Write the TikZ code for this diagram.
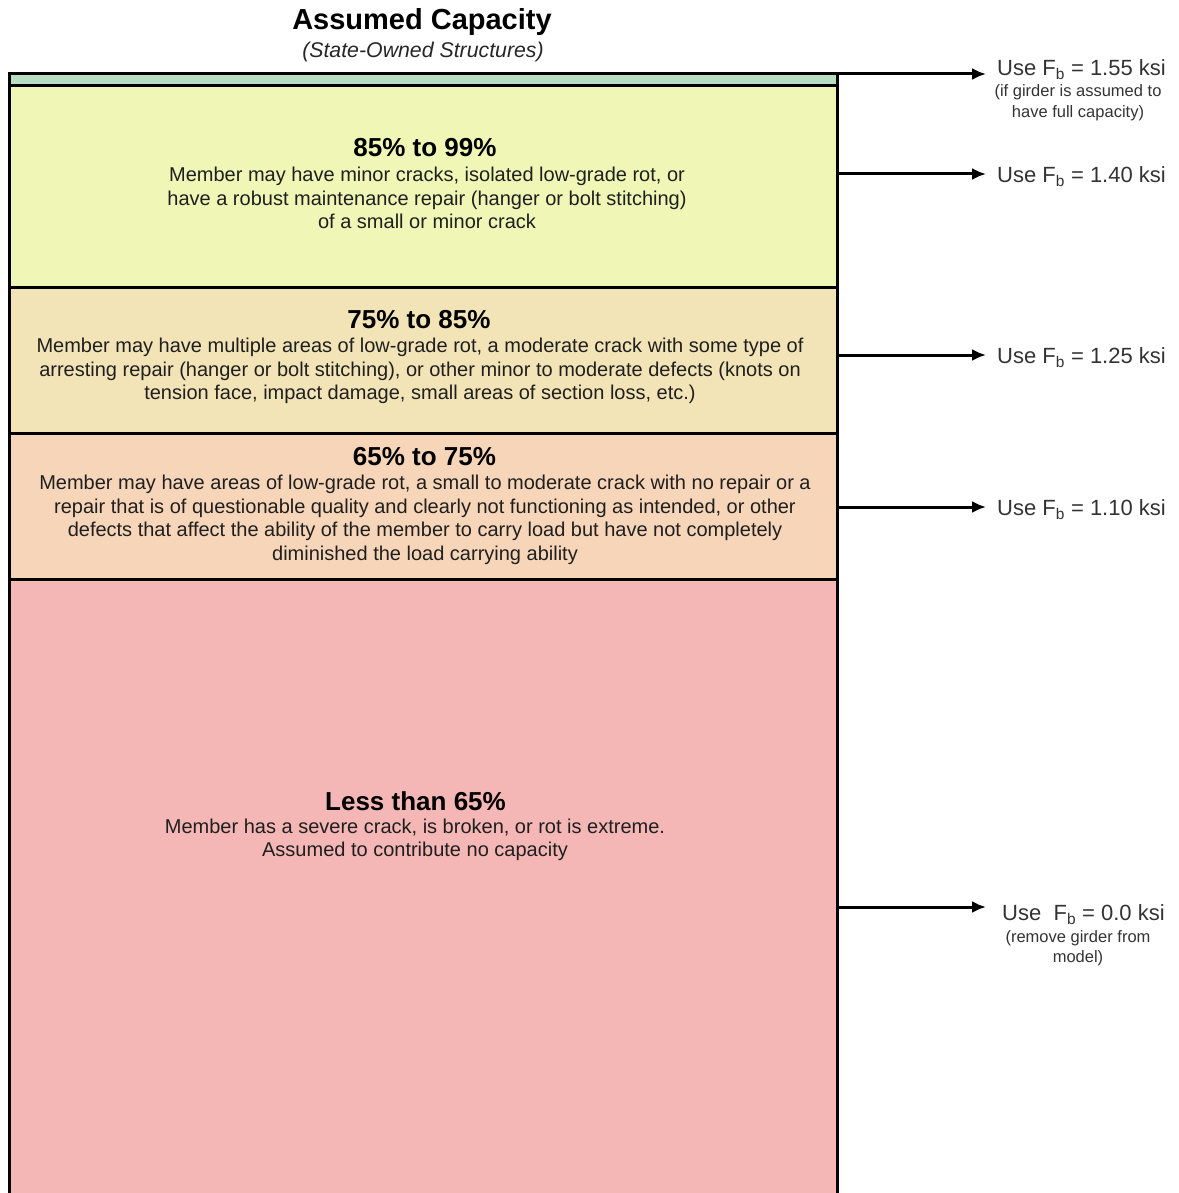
\documentclass[tikz,border=0pt]{standalone}
\usepackage{fontspec}
\setmainfont{Liberation Sans}
\usepackage{xcolor}
\usetikzlibrary{positioning,arrows.meta}
\definecolor{capgreen}{RGB}{184,222,192}
\definecolor{capyellow}{RGB}{240,246,182}
\definecolor{captan}{RGB}{242,228,182}
\definecolor{caporange}{RGB}{247,213,184}
\definecolor{capred}{RGB}{245,182,182}

\begin{document}
\begin{tikzpicture}[x=1pt, y=-1pt,
    band/.style={draw, line width=3pt, minimum width=828pt, inner sep=0pt, outer sep=0pt},
    head/.style={font=\fontsize{26}{30}\selectfont\bfseries, inner sep=0pt},
    body/.style={font=\fontsize{20}{23.6}\selectfont, align=center, inner sep=0pt, text=black!88},
    uselbl/.style={font=\fontsize{22}{26}\selectfont, anchor=west, inner sep=0pt, text=black!80},
    note/.style={font=\fontsize{16.5}{20.5}\selectfont, align=center, inner sep=0pt, text=black!80},
    arr/.style={-{Latex[length=14pt,width=12pt]}, line width=3pt}]
    \useasboundingbox (0,0) rectangle (1178,1193);
    \clip (0,0) rectangle (1178,1193);

    % Title
    \node[font=\fontsize{29}{33}\selectfont\bfseries, inner sep=0pt] (title) at (422,22.5) {Assumed Capacity};
    \node[font=\fontsize{21.3}{25}\selectfont\itshape, inner sep=0pt, text=black!85] (subtitle) at (423,51.5) {(State-Owned Structures)};

    % Capacity bands
    \node[band, fill=capgreen, minimum height=12pt] (full) at (423,80) {};
    \node[band, fill=capyellow, minimum height=201pt, below=0pt of full] (b85) {};
    \node[band, fill=captan, minimum height=146pt, below=0pt of b85] (b75) {};
    \node[band, fill=caporange, minimum height=146pt, below=0pt of b75] (b65) {};
    \node[band, fill=capred, minimum height=660pt, below=0pt of b65] (b00) {};

    % Band texts
    \node[head] (h85) at (425,148) {85\% to 99\%};
    \node[body] (t85) at (427,198) {Member may have minor cracks, isolated low-grade rot, or\\
        have a robust maintenance repair (hanger or bolt stitching)\\
        of a small or minor crack};
    \node[head] (h75) at (419,320) {75\% to 85\%};
    \node[body] (t75) at (420,371) {Member may have multiple areas of low-grade rot, a moderate crack with some type of\\
        arresting repair (hanger or bolt stitching), or other minor to moderate defects (knots on\\
        tension face, impact damage, small areas of section loss, etc.)};
    \node[head] (h65) at (424.5,457) {65\% to 75\%};
    \node[body] (t65) at (425,520) {Member may have areas of low-grade rot, a small to moderate crack with no repair or a\\
        repair that is of questionable quality and clearly not functioning as intended, or other\\
        defects that affect the ability of the member to carry load but have not completely\\
        diminished the load carrying ability};
    \node[head] (h00) at (415.5,801) {Less than 65\%};
    \node[body] (t00) at (415,840) {Member has a severe crack, is broken, or rot is extreme.\\
        Assumed to contribute no capacity};

    % Stress values
    \node[uselbl] (u155) at (997,69.5) {Use F\textsubscript{b} = 1.55 ksi};
    \node[note] (n155) at (1078,102.5) {(if girder is assumed to\\have full capacity)};
    \node[uselbl] (u140) at (997,176.5) {Use F\textsubscript{b} = 1.40 ksi};
    \node[uselbl] (u125) at (997,357.5) {Use F\textsubscript{b} = 1.25 ksi};
    \node[uselbl] (u110) at (997,509.5) {Use F\textsubscript{b} = 1.10 ksi};
    \node[uselbl] (u00) at (1002,914.5) {Use\ \ F\textsubscript{b} = 0.0 ksi};
    \node[note] (n00) at (1078,948) {(remove girder from\\model)};

    % Arrow tips
    \coordinate (tip155) at (986,74);
    \coordinate (tip140) at (986,174);
    \coordinate (tip125) at (986,355);
    \coordinate (tip110) at (986,507);
    \coordinate (tip00) at (986,907);

    % Arrows
    \draw[arr] (full.north east) -- (tip155);
    \draw[arr] (b85.east |- tip140) -- (tip140);
    \draw[arr] (b75.east |- tip125) -- (tip125);
    \draw[arr] (b65.east |- tip110) -- (tip110);
    \draw[arr] (b00.east |- tip00) -- (tip00);
\end{tikzpicture}
\end{document}
